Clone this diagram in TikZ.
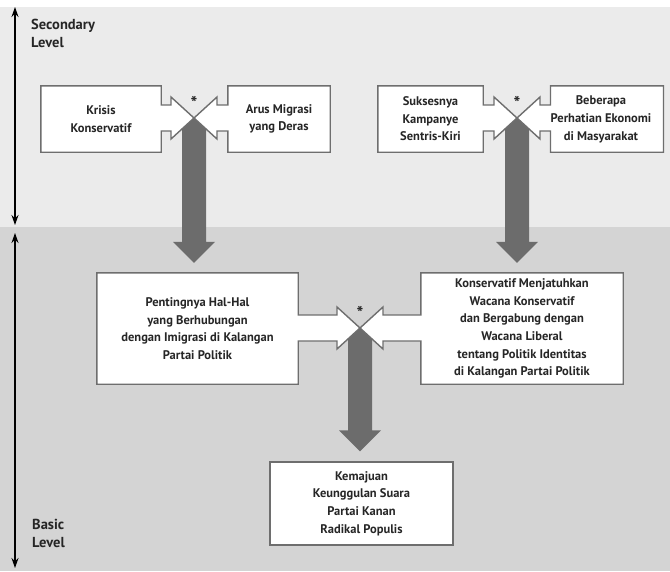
\documentclass[tikz,border=0pt]{standalone}
\usepackage{fontspec}
\setmainfont{PT Sans}
\usetikzlibrary{calc,arrows.meta}
\definecolor{bgtop}{HTML}{EBEBEB}
\definecolor{bgbot}{HTML}{D4D4D4}
\definecolor{boxedge}{HTML}{6E6E6E}
\definecolor{arrowgray}{HTML}{6C6C6C}
\definecolor{txt}{HTML}{262626}
\pgfdeclarelayer{bglayer}
\pgfdeclarelayer{arrowlayer}
\pgfdeclarelayer{shapelayer}
\pgfsetlayers{bglayer,arrowlayer,shapelayer,main}
\tikzset{
  boxarea/.style={inner sep=0pt, align=center, text=txt},
  boxline/.style={draw=boxedge, fill=white, line width=1.4pt, line join=miter},
  arrowfill/.style={fill=arrowgray},
  levelarrow/.style={line width=1.1pt, {Stealth[length=10pt,width=7pt]}-{Stealth[length=10pt,width=7pt]}},
  levellabel/.style={anchor=north west, align=left, text=txt, inner sep=0pt, font=\fontsize{14.5}{17.5}\selectfont\bfseries},
  star/.style={text=txt, inner sep=0pt, font=\fontsize{18}{18}\selectfont\bfseries}
}
\newcommand\boxright[2]{%
  \path (#2) +(0,-13) coordinate (#1su) +(0,13) coordinate (#1sd) +(0,-21) coordinate (#1wu) +(0,21) coordinate (#1wd) +(-23,0) coordinate (#1h);
  \filldraw[boxline] (#1.north west) -- (#1.north east) -- (#1.east |- #1su) -- (#1h |- #1su) -- (#1h |- #1wu) -- (#2) -- (#1h |- #1wd) -- (#1h |- #1sd) -- (#1.east |- #1sd) -- (#1.south east) -- (#1.south west) -- cycle;}
\newcommand\boxleft[2]{%
  \path (#2) +(0,-13) coordinate (#1su) +(0,13) coordinate (#1sd) +(0,-21) coordinate (#1wu) +(0,21) coordinate (#1wd) +(23,0) coordinate (#1h);
  \filldraw[boxline] (#1.north east) -- (#1.north west) -- (#1.west |- #1su) -- (#1h |- #1su) -- (#1h |- #1wu) -- (#2) -- (#1h |- #1wd) -- (#1h |- #1sd) -- (#1.west |- #1sd) -- (#1.south west) -- (#1.south east) -- cycle;}
\newcommand\bigarrow[2]{%
  \fill[arrowfill] ($(#1)+(-12,0)$) -- ($(#2)+(-12,-21)$) -- ($(#2)+(-21,-21)$) -- (#2) -- ($(#2)+(21,-21)$) -- ($(#2)+(12,-21)$) -- ($(#1)+(12,0)$) -- cycle;}
\begin{document}
\begin{tikzpicture}[x=1pt,y=-1pt,font=\fontsize{12.5}{17.6}\selectfont\bfseries]
\useasboundingbox (0,0) rectangle (670,571);
\begin{pgfonlayer}{bglayer}
  \fill[white] (0,0) rectangle (670,571);
  \fill[bgtop] (0,7) rectangle (670,227);
  \fill[bgbot] (0,227) rectangle (670,571);
\end{pgfonlayer}

% level indicators
\coordinate (lt) at (15,7);
\coordinate (lm1) at (15,225);
\coordinate (lm2) at (15,233);
\coordinate (lb) at (15,568);
\draw[levelarrow] (lt) -- (lm1);
\draw[levelarrow] (lm2) -- (lb);
\node[levellabel] (sec) at (31,19) {Secondary\\Level};
\node[levellabel] (bas) at (32,519) {Basic\\Level};

% junction points
\coordinate (j1) at (194,118);
\coordinate (j2) at (517,118);
\coordinate (j3) at (360,328);

% boxes
\node[boxarea, minimum width=120pt, minimum height=66pt] (k1) at (101,119) {Krisis\\Konservatif};
\node[boxarea, minimum width=102pt, minimum height=66pt] (k2) at (279,119) {Arus Migrasi\\yang Deras};
\node[boxarea, minimum width=105pt, minimum height=66pt] (k3) at (430.5,119) {Suksesnya\\Kampanye\\Sentris-Kiri};
\node[boxarea, minimum width=112pt, minimum height=66pt] (k4) at (607,119) {\begin{tabular}{@{}c@{\hspace{12pt}}}Beberapa\\Perhatian Ekonomi\\di Masyarakat\end{tabular}};
\node[boxarea, minimum width=201pt, minimum height=111pt] (m1) at (197.5,328.5) {Pentingnya Hal-Hal\\yang Berhubungan\\dengan Imigrasi di Kalangan\\Partai Politik};
\node[boxarea, minimum width=202pt, minimum height=111pt] (m2) at (522,328.5) {Konservatif Menjatuhkan\\Wacana Konservatif\\dan Bergabung dengan\\Wacana Liberal\\tentang Politik Identitas\\di Kalangan Partai Politik};
\node[boxarea, minimum width=183pt, minimum height=83pt, draw=boxedge, fill=white, line width=1.4pt] (b1) at (361.5,503.5) {Kemajuan\\Keunggulan Suara\\Partai Kanan\\Radikal Populis};

% asterisks
\node[star] (a1) at (194,103) {*};
\node[star] (a2) at (517,103) {*};
\node[star] (a3) at (360,313) {*};

% arrow-shaped box outlines
\begin{pgfonlayer}{shapelayer}
  \boxright{k1}{j1}
  \boxleft{k2}{j1}
  \boxright{k3}{j2}
  \boxleft{k4}{j2}
  \boxright{m1}{j3}
  \boxleft{m2}{j3}
\end{pgfonlayer}

% big gray arrows
\coordinate (t1) at ($(j1 |- m1.north)+(0,-10)$);
\coordinate (t2) at ($(j2 |- m2.north)+(0,-10)$);
\coordinate (t3) at ($(j3 |- b1.north)+(0,-10)$);
\begin{pgfonlayer}{arrowlayer}
  \bigarrow{j1}{t1}
  \bigarrow{j2}{t2}
  \bigarrow{j3}{t3}
\end{pgfonlayer}
\end{tikzpicture}
\end{document}
